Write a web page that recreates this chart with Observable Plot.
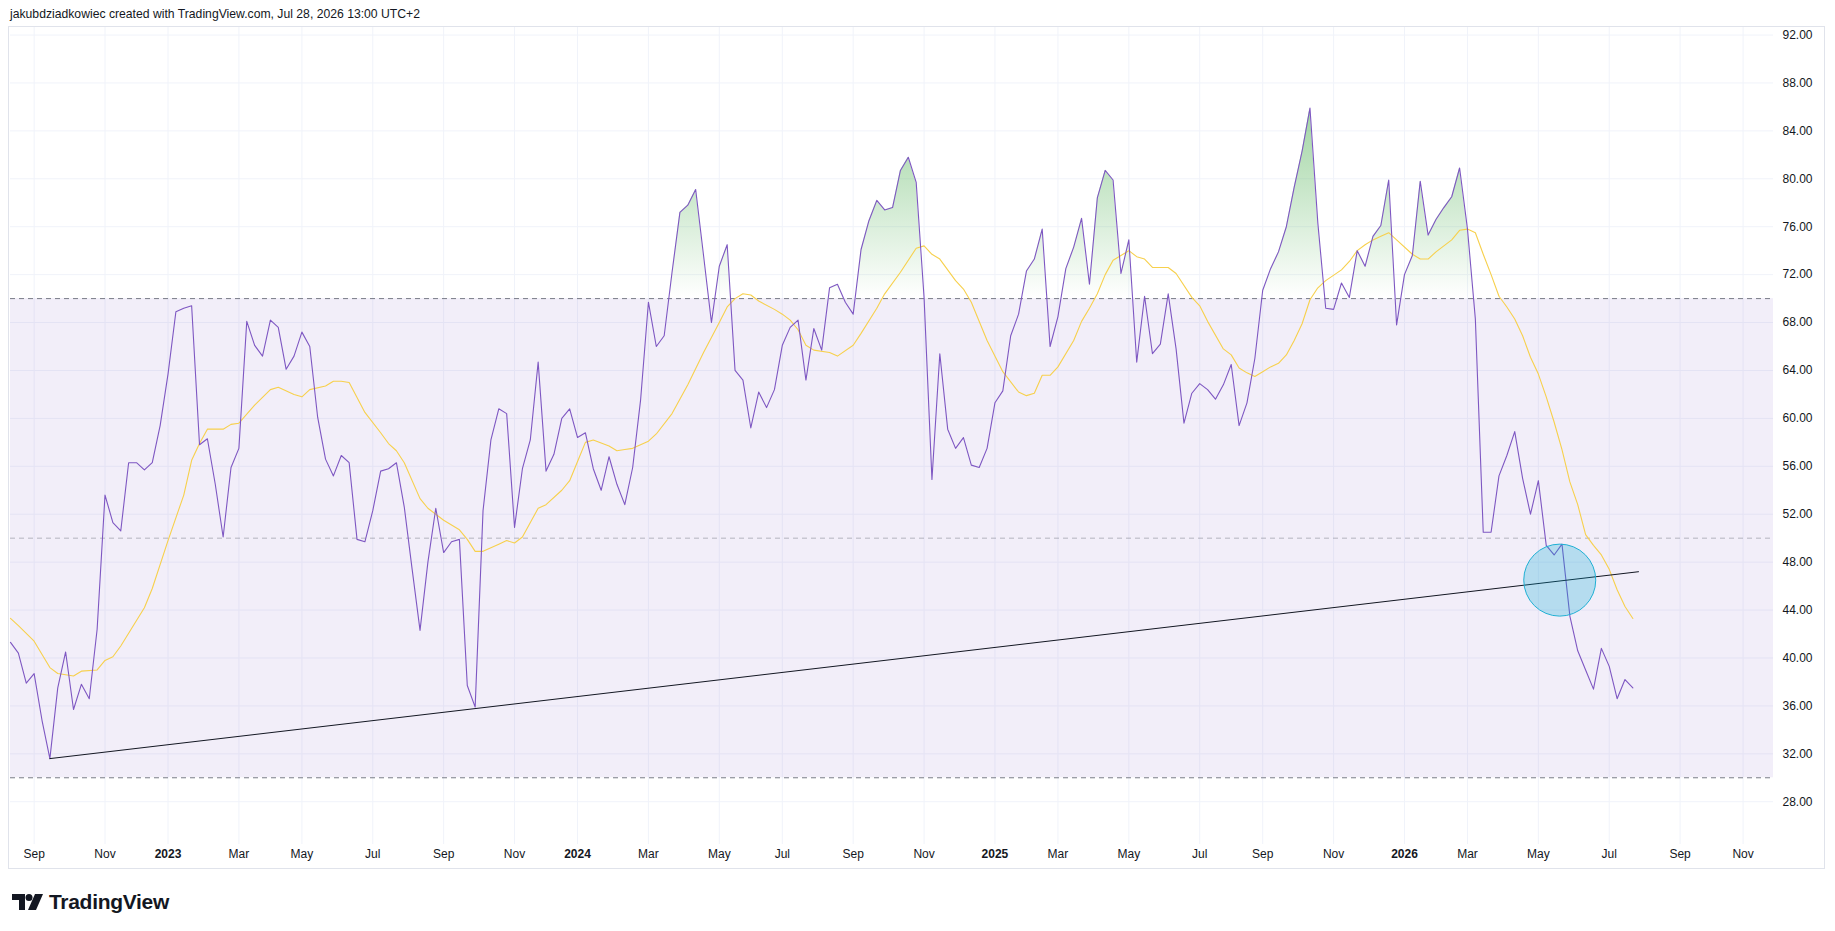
<!DOCTYPE html>
<html>
<head>
<meta charset="utf-8">
<script src="https://cdn.jsdelivr.net/npm/d3@7"></script>
<script src="https://cdn.jsdelivr.net/npm/@observablehq/plot@0.6"></script>
<style>
  html, body { margin: 0; padding: 0; background: #ffffff; }
  #wrap { position: relative; width: 1835px; height: 931px; overflow: hidden; background: #fff; }
  #header { position: absolute; left: 10px; top: 7px; font: 12.2px "Liberation Sans", Arial, sans-serif; color: #131722; white-space: nowrap; }
  #frame { position: absolute; left: 8px; top: 26px; width: 1817px; height: 843px; border: 1px solid #e0e3eb; box-sizing: border-box; }
  #chart { position: absolute; left: 0; top: 0; }
  #logo { position: absolute; left: 12px; top: 890px; display: flex; align-items: center; gap: 5px; font: bold 21px "Liberation Sans", Arial, sans-serif; color: #131722; letter-spacing: -0.3px; }
</style>
</head>
<body>
<div id="wrap">
  <div id="header">jakubdziadkowiec created with TradingView.com, Jul 28, 2026 13:00 UTC+2</div>
  <div id="frame"></div>
  <div id="chart"></div>
  <div id="logo">
    <svg width="32" height="16" viewBox="0 0 32 16"><path d="M0 0h13v16H7V6H0z" fill="#131722"/><circle cx="17" cy="3.5" r="3.5" fill="#131722"/><path d="M23 0h8l-7 16h-8z" fill="#131722"/></svg>
    <span>TradingView</span>
  </div>
</div>
<script>
// ---------------- data ----------------
const firstWeek = "2022-08-15";           // Monday of the first weekly bar
const rsiValues = [
  41.3, 40.4, 37.9, 38.7, 34.8, 31.6, 37.5, 40.5, 35.7, 37.8,
  36.6, 42.4, 53.6, 51.3, 50.6, 56.3, 56.3, 55.7, 56.3, 59.4,
  63.7, 68.9, 69.2, 69.4, 57.8, 58.3, 54.5, 50.1, 55.9, 57.5,
  68.1, 66.1, 65.2, 68.2, 67.6, 64.1, 65.2, 67.2, 66.0, 60.1,
  56.6, 55.2, 56.9, 56.3, 49.9, 49.7, 52.3, 55.6, 55.8, 56.3,
  52.6, 47.4, 42.3, 48.0, 52.5, 48.8, 49.7, 49.9, 37.7, 35.9,
  52.3, 58.2, 60.8, 60.4, 50.9, 55.8, 58.2, 64.7, 55.6, 57.0,
  60.0, 60.8, 58.4, 58.8, 55.8, 54.0, 56.8, 54.5, 52.8, 55.9,
  61.5, 69.7, 66.0, 66.9, 72.2, 77.2, 77.8, 79.1, 73.6, 68.0,
  72.7, 74.5, 64.0, 63.2, 59.2, 62.2, 60.9, 62.4, 66.1, 67.6,
  68.2, 63.2, 67.5, 65.7, 70.9, 71.2, 69.7, 68.7, 74.1, 76.5,
  78.2, 77.4, 77.6, 80.7, 81.8, 79.7, 70.1, 54.9, 65.4, 59.1,
  57.5, 58.4, 56.1, 55.9, 57.5, 61.3, 62.3, 66.9, 68.7, 72.3,
  73.3, 75.8, 66.0, 68.5, 72.5, 74.3, 76.7, 71.2, 78.4, 80.7,
  79.9, 72.1, 74.9, 64.7, 70.2, 65.4, 66.2, 70.4, 65.8, 59.6,
  62.1, 62.9, 62.4, 61.6, 62.8, 64.5, 59.4, 61.3, 65.0, 70.7,
  72.5, 73.9, 76.0, 79.3, 82.3, 85.9, 76.3, 69.2, 69.1, 71.3,
  70.1, 74.0, 72.7, 75.2, 76.1, 79.9, 67.8, 72.0, 73.6, 79.8,
  75.3, 76.6, 77.6, 78.5, 80.9, 75.8, 68.3, 50.5, 50.5, 55.2,
  56.9, 58.9, 55.0, 52.0, 54.8, 49.4, 48.6, 49.5, 43.5, 40.6,
  39.0, 37.4, 40.8, 39.3, 36.6, 38.2, 37.5
];
// moving average of RSI, read at these weekly bar numbers
const maWeeks = [
  0, 1, 3, 5, 6, 8, 9, 11, 12, 13, 14, 17, 18, 20, 22, 23, 24, 25, 27, 28, 29, 31, 33, 34, 36, 37, 38, 40, 41, 42, 43, 45,
  47, 48, 49, 50, 52, 53, 55, 57, 58, 59, 60, 62, 63, 64, 65, 67, 68, 70, 71, 72, 73, 74, 76, 77, 78, 79, 81, 82, 84, 86,
  88, 90, 91, 92, 93, 94, 95, 97, 98, 99, 100, 101, 102, 104, 105, 107, 108, 110, 111, 113, 115, 116, 117, 118, 120, 121,
  122, 124, 126, 128, 129, 130, 131, 132, 133, 135, 136, 137, 138, 139, 140, 141, 142, 143, 144, 145, 146, 147, 148, 150,
  151, 152, 154, 155, 156, 157, 158, 159, 160, 161, 162, 163, 164, 165, 166, 167, 169, 170, 171, 172, 173, 174, 175, 176,
  178, 179, 180, 181, 183, 184, 185, 186, 187, 188, 189, 190, 191, 192, 193, 194, 195, 196, 197, 198, 199, 200, 201, 202,
  203, 204, 205, 206
];
const maValues = [
  43.3, 42.7, 41.4, 39.2, 38.7, 38.5, 38.9, 39.0, 39.8, 40.1, 41.0, 44.2, 45.8, 49.8, 53.6, 56.5, 57.9, 59.1, 59.1, 59.5, 59.6, 61.1, 62.4, 62.6, 62.0, 61.8, 62.4, 62.7, 63.1, 63.1, 63.0, 60.5,
  58.8, 57.9, 57.3, 56.3, 53.3, 52.5, 51.5, 50.7, 49.9, 48.9, 48.9, 49.5, 49.8, 49.6, 50.1, 52.5, 52.8, 54.0, 54.8, 56.4, 58.0, 58.2, 57.7, 57.3, 57.4, 57.5, 58.1, 58.7, 60.4, 62.8,
  65.5, 68.0, 69.3, 70.0, 70.4, 70.3, 69.8, 69.1, 68.7, 68.2, 67.4, 66.1, 65.7, 65.5, 65.2, 66.1, 67.1, 69.2, 70.4, 72.2, 74.2, 74.4, 73.7, 73.3, 71.5, 70.8,
  69.7, 66.5, 63.9, 62.2, 61.9, 62.1, 63.6, 63.6, 64.3, 66.5, 68.1, 69.2, 70.4, 72.0, 73.2, 73.6, 74.0, 73.5, 73.3, 72.6, 72.6, 72.6, 72.1, 70.1,
  69.4, 68.1, 65.8, 65.3, 64.2, 63.8, 63.5, 63.9, 64.3, 64.6, 65.3, 66.5, 67.9, 69.9, 70.9, 71.5, 72.4, 73.1, 74.0, 74.5, 74.9, 75.2, 75.5, 74.9,
  73.7, 73.3, 73.3, 73.9, 74.9, 75.7, 75.8, 75.5, 73.7, 72.0, 70.2, 69.3, 68.3, 66.9, 65.1, 63.7, 61.8, 59.7, 57.4, 54.7, 52.8, 50.3, 49.4, 48.6,
  47.4, 45.7, 44.3, 43.3
];
const levelUpper = 70, levelMiddle = 50, levelLower = 30;
const trendDates = ["2022-09-19", "2026-08-01"];
const trendValues = [31.6, 47.2];
const circleDate = "2026-05-23", circleValue = 46.5;
const xDomain = ["2022-08-15", "2026-11-29"];
const yDomain = [24.43, 92.63];
const yTicks = [28, 32, 36, 40, 44, 48, 52, 56, 60, 64, 68, 72, 76, 80, 84, 88, 92];
const tickDates = [
  "2022-09-05", "2022-11-07", "2023-01-02", "2023-03-06", "2023-05-01", "2023-07-03", "2023-09-04", "2023-11-06",
  "2024-01-01", "2024-03-04", "2024-05-06", "2024-07-01", "2024-09-02", "2024-11-04",
  "2025-01-06", "2025-03-03", "2025-05-05", "2025-07-07", "2025-09-01", "2025-11-03",
  "2026-01-05", "2026-03-02", "2026-05-04", "2026-07-06", "2026-09-07", "2026-11-02"
];
const tickLabels = [
  "Sep", "Nov", "2023", "Mar", "May", "Jul", "Sep", "Nov",
  "2024", "Mar", "May", "Jul", "Sep", "Nov",
  "2025", "Mar", "May", "Jul", "Sep", "Nov",
  "2026", "Mar", "May", "Jul", "Sep", "Nov"
];

// ---------------- tables ----------------
const DAY = 86400000;
const t0 = new Date(firstWeek + "T00:00:00Z").getTime();
const weekDate = i => new Date(t0 + i * 7 * DAY);
const parse = s => new Date(s + "T00:00:00Z");
const rsi = rsiValues.map((v, i) => ({date: weekDate(i), value: v}));
const ma = maWeeks.map((w, i) => ({date: weekDate(w), value: maValues[i]}));
const trend = trendDates.map((d, i) => ({date: parse(d), value: trendValues[i]}));
const ticks = tickDates.map((d, i) => ({date: parse(d), label: tickLabels[i], year: /^\d{4}$/.test(tickLabels[i])}));
const band = [{x1: parse(xDomain[0]), x2: parse(xDomain[1]), y1: levelLower, y2: levelUpper}];

const chart = Plot.plot({
  width: 1835,
  height: 931,
  marginTop: 27,
  marginBottom: 87,
  marginLeft: 10,
  marginRight: 62,
  style: {background: "transparent", fontFamily: "'Liberation Sans', Arial, sans-serif", color: "#131722"},
  x: {type: "utc", domain: xDomain.map(parse), axis: null},
  y: {domain: yDomain, axis: null},
  marks: [
    Plot.ruleY(yTicks, {stroke: "#f0f3fa", strokeWidth: 1}),
    Plot.ruleX(ticks, {x: "date", stroke: "#f0f3fa", strokeWidth: 1}),
    Plot.rect(band, {x1: "x1", x2: "x2", y1: "y1", y2: "y2", fill: "#7e57c2", fillOpacity: 0.1}),
    Plot.ruleY([levelUpper, levelLower], {stroke: "#787b86", strokeWidth: 1, strokeDasharray: "5,4"}),
    Plot.ruleY([levelMiddle], {stroke: "#787b86", strokeOpacity: 0.5, strokeWidth: 1, strokeDasharray: "5,4"}),
    Plot.areaY(rsi, {x: "date", y1: levelUpper, y2: "value", fill: "url(#obGrad)", curve: "linear"}),
    Plot.line(ma, {x: "date", y: "value", stroke: "#f7d04c", strokeWidth: 1.1}),
    Plot.line(rsi, {x: "date", y: "value", stroke: "#7e57c2", strokeWidth: 1.1}),
    Plot.line(trend, {x: "date", y: "value", stroke: "#131722", strokeWidth: 1}),
    Plot.dot([{date: parse(circleDate), value: circleValue}], {x: "date", y: "value", r: 36, fill: "#00a9d4", fillOpacity: 0.25, stroke: "#1fb0d4", strokeWidth: 1}),
    Plot.axisY(yTicks, {anchor: "right", tickSize: 0, tickPadding: 9, tickFormat: d3.format(".2f"), fontSize: 12, label: null, fill: "#131722"}),
    Plot.text(ticks.filter(d => !d.year), {x: "date", text: "label", frameAnchor: "bottom", dy: 13, fontSize: 12, fill: "#131722"}),
    Plot.text(ticks.filter(d => d.year), {x: "date", text: "label", frameAnchor: "bottom", dy: 13, fontSize: 12, fontWeight: "bold", fill: "#131722"})
  ]
});

// overbought gradient (green fading to transparent at the 70 level)
const ys = chart.scale("y");
const NS = "http://www.w3.org/2000/svg";
const defs = document.createElementNS(NS, "defs");
const grad = document.createElementNS(NS, "linearGradient");
grad.setAttribute("id", "obGrad");
grad.setAttribute("gradientUnits", "userSpaceOnUse");
grad.setAttribute("x1", "0"); grad.setAttribute("x2", "0");
grad.setAttribute("y1", ys.apply(levelUpper)); grad.setAttribute("y2", ys.apply(100));
[[0, 0], [1, 1]].forEach(([o, a]) => {
  const s = document.createElementNS(NS, "stop");
  s.setAttribute("offset", o);
  s.setAttribute("stop-color", "#4caf50");
  s.setAttribute("stop-opacity", a);
  grad.appendChild(s);
});
defs.appendChild(grad);
chart.insertBefore(defs, chart.firstChild);

document.getElementById("chart").appendChild(chart);
</script>
</body>
</html>
